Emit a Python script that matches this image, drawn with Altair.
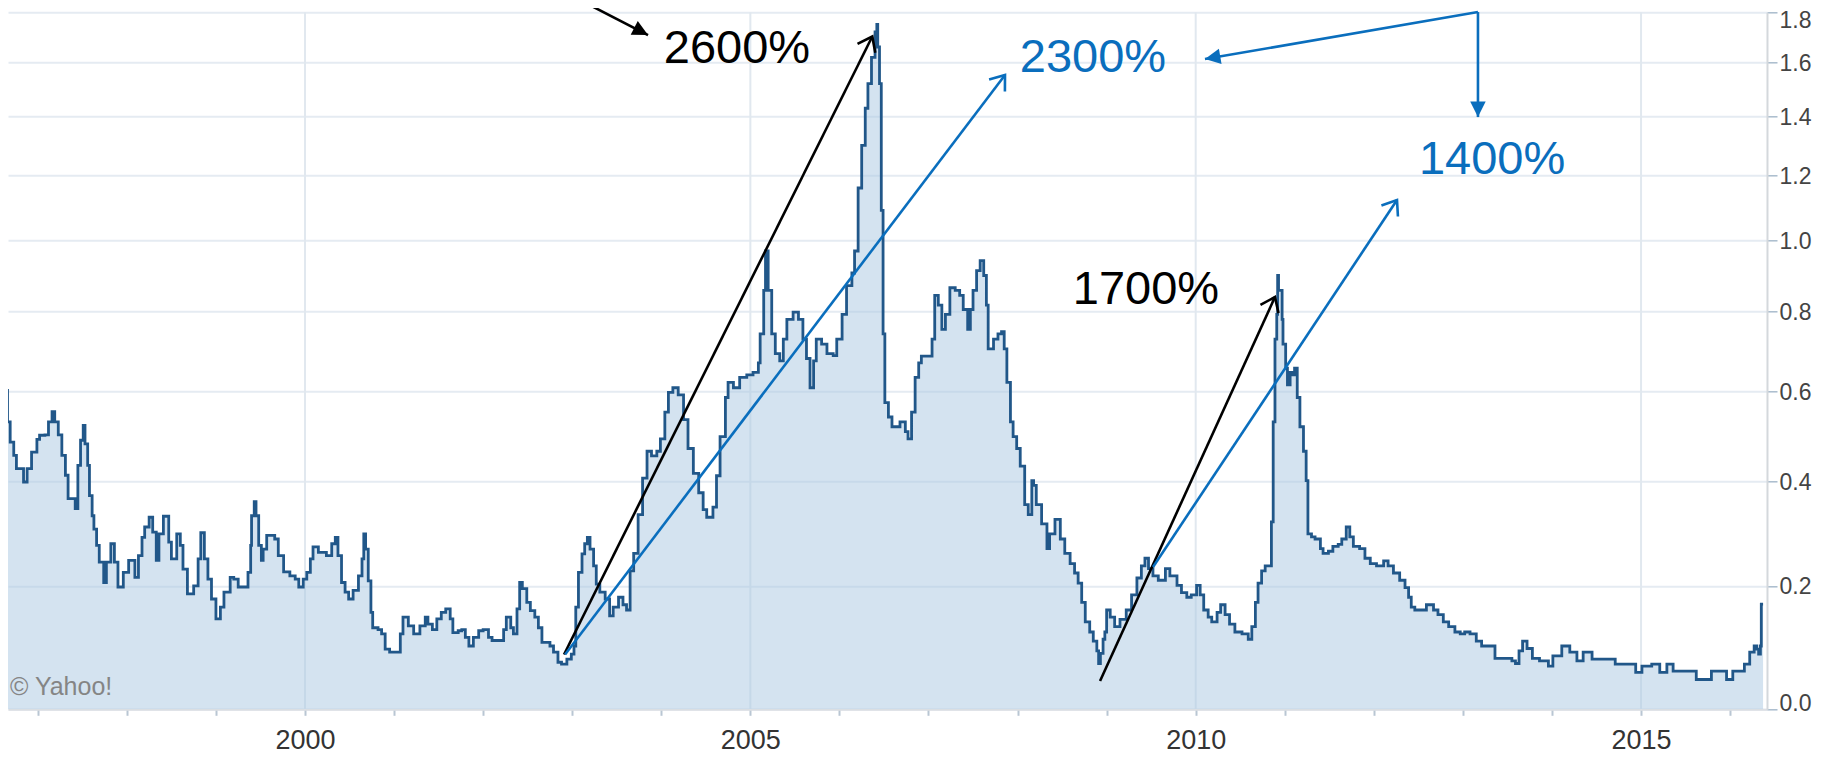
import altair as alt
import pandas as pd

# ---- series (decimal year, value) ----
years = [
    1996.60, 1996.61, 1996.64, 1996.66, 1996.69, 1996.73, 1996.76, 1996.84, 1996.88, 1996.93,
    1996.99, 1997.02, 1997.08, 1997.12, 1997.16, 1997.19, 1997.23, 1997.27, 1997.31, 1997.34,
    1997.42, 1997.45, 1997.48, 1997.51, 1997.53, 1997.56, 1997.58, 1997.61, 1997.63, 1997.66,
    1997.69, 1997.74, 1997.77, 1997.82, 1997.86, 1997.90, 1997.96, 1998.02, 1998.09, 1998.13,
    1998.17, 1998.20, 1998.25, 1998.29, 1998.33, 1998.36, 1998.41, 1998.47, 1998.50, 1998.56,
    1998.60, 1998.63, 1998.68, 1998.75, 1998.80, 1998.83, 1998.87, 1998.91, 1998.95, 1999.00,
    1999.05, 1999.09, 1999.16, 1999.20, 1999.25, 1999.35, 1999.36, 1999.39, 1999.40, 1999.43,
    1999.45, 1999.48, 1999.51, 1999.53, 1999.57, 1999.63, 1999.66, 1999.70, 1999.76, 1999.83,
    1999.89, 1999.93, 1999.98, 2000.02, 2000.06, 2000.09, 2000.15, 2000.24, 2000.30, 2000.34,
    2000.37, 2000.41, 2000.45, 2000.49, 2000.54, 2000.60, 2000.64, 2000.66, 2000.68, 2000.71,
    2000.74, 2000.76, 2000.82, 2000.86, 2000.90, 2000.95, 2001.03, 2001.07, 2001.10, 2001.16,
    2001.22, 2001.27, 2001.29, 2001.35, 2001.38, 2001.43, 2001.48, 2001.53, 2001.58, 2001.63,
    2001.66, 2001.72, 2001.76, 2001.80, 2001.84, 2001.89, 2001.95, 2002.00, 2002.06, 2002.10,
    2002.19, 2002.23, 2002.26, 2002.31, 2002.34, 2002.38, 2002.41, 2002.44, 2002.49, 2002.53,
    2002.58, 2002.62, 2002.66, 2002.75, 2002.79, 2002.84, 2002.88, 2002.94, 2002.99, 2003.02,
    2003.04, 2003.07, 2003.11, 2003.14, 2003.17, 2003.20, 2003.24, 2003.27, 2003.31, 2003.37,
    2003.42, 2003.46, 2003.52, 2003.57, 2003.61, 2003.65, 2003.69, 2003.74, 2003.79, 2003.84,
    2003.89, 2003.95, 2003.99, 2004.04, 2004.08, 2004.13, 2004.19, 2004.25, 2004.30, 2004.36,
    2004.42, 2004.47, 2004.51, 2004.58, 2004.62, 2004.66, 2004.72, 2004.75, 2004.81, 2004.88,
    2004.96, 2005.03, 2005.09, 2005.11, 2005.15, 2005.17, 2005.20, 2005.24, 2005.28, 2005.33,
    2005.37, 2005.41, 2005.48, 2005.54, 2005.59, 2005.63, 2005.67, 2005.71, 2005.74, 2005.80,
    2005.86, 2005.93, 2005.97, 2006.03, 2006.08, 2006.14, 2006.17, 2006.21, 2006.25, 2006.29,
    2006.32, 2006.36, 2006.40, 2006.42, 2006.43, 2006.45, 2006.47, 2006.49, 2006.51, 2006.55,
    2006.59, 2006.62, 2006.68, 2006.74, 2006.77, 2006.81, 2006.85, 2006.89, 2006.92, 2007.00,
    2007.04, 2007.07, 2007.11, 2007.15, 2007.19, 2007.24, 2007.30, 2007.35, 2007.39, 2007.44,
    2007.47, 2007.50, 2007.54, 2007.58, 2007.62, 2007.65, 2007.67, 2007.73, 2007.78, 2007.82,
    2007.85, 2007.88, 2007.92, 2007.95, 2007.99, 2008.03, 2008.08, 2008.12, 2008.16, 2008.18,
    2008.21, 2008.27, 2008.33, 2008.36, 2008.42, 2008.48, 2008.53, 2008.59, 2008.64, 2008.68,
    2008.72, 2008.76, 2008.81, 2008.85, 2008.89, 2008.91, 2008.93, 2008.96, 2008.98, 2009.00,
    2009.04, 2009.09, 2009.15, 2009.22, 2009.28, 2009.34, 2009.39, 2009.43, 2009.47, 2009.52,
    2009.58, 2009.66, 2009.71, 2009.79, 2009.84, 2009.90, 2009.95, 2010.01, 2010.05, 2010.09,
    2010.14, 2010.18, 2010.24, 2010.28, 2010.33, 2010.38, 2010.44, 2010.52, 2010.59, 2010.63,
    2010.67, 2010.70, 2010.74, 2010.78, 2010.83, 2010.85, 2010.87, 2010.89, 2010.91, 2010.92,
    2010.93, 2010.95, 2010.97, 2010.98, 2011.01, 2011.03, 2011.06, 2011.09, 2011.11, 2011.14,
    2011.17, 2011.21, 2011.24, 2011.26, 2011.30, 2011.34, 2011.40, 2011.43, 2011.49, 2011.54,
    2011.60, 2011.64, 2011.69, 2011.73, 2011.77, 2011.84, 2011.90, 2011.96, 2012.03, 2012.11,
    2012.16, 2012.22, 2012.29, 2012.35, 2012.39, 2012.42, 2012.46, 2012.52, 2012.59, 2012.67,
    2012.72, 2012.78, 2012.84, 2012.91, 2012.97, 2013.02, 2013.08, 2013.15, 2013.21, 2013.30,
    2013.36, 2013.45, 2013.55, 2013.59, 2013.63, 2013.67, 2013.72, 2013.78, 2013.86, 2013.96,
    2014.01, 2014.11, 2014.20, 2014.28, 2014.35, 2014.45, 2014.61, 2014.71, 2014.86, 2014.94,
    2015.01, 2015.12, 2015.21, 2015.29, 2015.36, 2015.53, 2015.62, 2015.71, 2015.79, 2015.86,
    2015.96, 2016.03, 2016.11, 2016.16, 2016.22, 2016.27, 2016.30, 2016.32, 2016.34, 2016.35,
    2016.37,
]
rate = [
    0.757, 0.679, 0.602, 0.529, 0.484, 0.455, 0.427, 0.399, 0.427, 0.462,
    0.490, 0.499, 0.500, 0.529, 0.552, 0.529, 0.500, 0.455, 0.413, 0.365,
    0.345, 0.434, 0.488, 0.521, 0.480, 0.434, 0.371, 0.331, 0.305, 0.274,
    0.243, 0.206, 0.243, 0.277, 0.243, 0.198, 0.224, 0.246, 0.215, 0.255,
    0.289, 0.309, 0.328, 0.299, 0.246, 0.296, 0.330, 0.280, 0.249, 0.296,
    0.274, 0.230, 0.186, 0.200, 0.249, 0.298, 0.249, 0.212, 0.177, 0.143,
    0.163, 0.189, 0.215, 0.212, 0.198, 0.198, 0.224, 0.274, 0.331, 0.359,
    0.331, 0.274, 0.246, 0.267, 0.293, 0.293, 0.286, 0.255, 0.225, 0.218,
    0.212, 0.198, 0.212, 0.224, 0.249, 0.271, 0.261, 0.255, 0.277, 0.289,
    0.255, 0.206, 0.189, 0.177, 0.192, 0.218, 0.249, 0.296, 0.267, 0.209,
    0.154, 0.128, 0.125, 0.118, 0.093, 0.088, 0.088, 0.118, 0.146, 0.131,
    0.118, 0.118, 0.131, 0.146, 0.134, 0.125, 0.143, 0.154, 0.160, 0.143,
    0.120, 0.123, 0.125, 0.112, 0.098, 0.112, 0.123, 0.125, 0.112, 0.107,
    0.107, 0.125, 0.146, 0.128, 0.118, 0.160, 0.206, 0.195, 0.171, 0.157,
    0.146, 0.128, 0.104, 0.098, 0.088, 0.072, 0.069, 0.077, 0.085, 0.098,
    0.163, 0.224, 0.258, 0.277, 0.289, 0.267, 0.236, 0.203, 0.189, 0.177,
    0.148, 0.163, 0.180, 0.167, 0.158, 0.227, 0.259, 0.333, 0.407, 0.464,
    0.454, 0.464, 0.491, 0.551, 0.597, 0.608, 0.591, 0.534, 0.470, 0.417,
    0.377, 0.343, 0.328, 0.348, 0.412, 0.496, 0.585, 0.621, 0.608, 0.633,
    0.639, 0.645, 0.668, 0.741, 0.857, 0.968, 0.857, 0.741, 0.691, 0.673,
    0.728, 0.779, 0.798, 0.779, 0.728, 0.679, 0.608, 0.673, 0.728, 0.715,
    0.691, 0.686, 0.728, 0.792, 0.870, 0.905, 0.968, 1.160, 1.300, 1.430,
    1.520, 1.620, 1.720, 1.750, 1.660, 1.520, 1.090, 0.741, 0.573, 0.540,
    0.518, 0.518, 0.529, 0.507, 0.491, 0.551, 0.633, 0.668, 0.685, 0.685,
    0.728, 0.843, 0.817, 0.753, 0.792, 0.864, 0.857, 0.843, 0.805, 0.753,
    0.805, 0.857, 0.912, 0.940, 0.898, 0.817, 0.703, 0.728, 0.741, 0.747,
    0.703, 0.621, 0.529, 0.496, 0.470, 0.432, 0.353, 0.333, 0.402, 0.392,
    0.353, 0.315, 0.268, 0.296, 0.324, 0.286, 0.259, 0.240, 0.223, 0.205,
    0.171, 0.138, 0.121, 0.106, 0.090, 0.070, 0.086, 0.109, 0.121, 0.158,
    0.146, 0.130, 0.142, 0.158, 0.184, 0.214, 0.236, 0.250, 0.231, 0.218,
    0.210, 0.231, 0.218, 0.201, 0.188, 0.180, 0.184, 0.201, 0.184, 0.158,
    0.146, 0.138, 0.154, 0.167, 0.150, 0.134, 0.121, 0.118, 0.109, 0.130,
    0.171, 0.205, 0.227, 0.236, 0.236, 0.319, 0.529, 0.728, 0.792, 0.898,
    0.857, 0.857, 0.779, 0.715, 0.655, 0.615, 0.645, 0.639, 0.655, 0.585,
    0.518, 0.464, 0.402, 0.296, 0.290, 0.286, 0.268, 0.259, 0.263, 0.272,
    0.276, 0.286, 0.309, 0.290, 0.272, 0.268, 0.250, 0.240, 0.236, 0.245,
    0.236, 0.223, 0.210, 0.197, 0.180, 0.163, 0.158, 0.158, 0.167, 0.158,
    0.150, 0.138, 0.130, 0.121, 0.118, 0.121, 0.118, 0.106, 0.098, 0.098,
    0.078, 0.078, 0.074, 0.070, 0.090, 0.106, 0.094, 0.078, 0.074, 0.066,
    0.082, 0.098, 0.088, 0.074, 0.088, 0.077, 0.077, 0.069, 0.069, 0.056,
    0.066, 0.069, 0.056, 0.069, 0.058, 0.058, 0.045, 0.045, 0.058, 0.058,
    0.045, 0.058, 0.058, 0.069, 0.088, 0.098, 0.093, 0.085, 0.098, 0.168,
    0.168,
]

# ---- axes ----
x_ticks = list(range(1997, 2017))
grid_years = [2000, 2005, 2010, 2015]
y_ticks = [0.0, 0.2, 0.4, 0.6, 0.8, 1.0, 1.2, 1.4, 1.6, 1.8]
x_domain = [1996.6655, 2016.414]
y_domain = [0.0, 1.8]

# ---- annotations (data coordinates) ----
arrow_x0 = [2003.087, 2002.908, 2002.92, 2013.169, 2013.169, 2008.926, 2009.521]
arrow_y0 = [1.851, 0.0843, 0.0843, 1.801, 1.801, 0.0427, 0.2339]
arrow_x1 = [2003.851, 2006.369, 2007.859, 2010.104, 2013.169, 2010.890, 2012.26]
arrow_y1 = [1.7075, 1.7015, 1.5522, 1.6132, 1.3985, 0.8387, 1.1219]
arrow_color = ["#000000", "#000000", "#0a6ebd", "#0a6ebd", "#0a6ebd", "#000000", "#0a6ebd"]
arrow_head = ["solid", "open", "open", "solid", "solid", "open", "open"]
arrow_angle = [27.2, 296.5, 307.2, 170.2, 90.0, 294.5, 303.6]

label_text = ["2600%", "2300%", "1700%", "1400%"]
label_x = [2004.85, 2008.847, 2009.442, 2013.327]
label_y = [1.652, 1.617, 0.8578, 1.251]
label_color = ["#000000", "#0a6ebd", "#000000", "#0a6ebd"]

credit_text = ["\u00a9 Yahoo!"]
credit_x = [1996.688]
credit_y = [0.0335]

series = pd.DataFrame({"year": years, "rate": rate})
arrows = pd.DataFrame({"x0": arrow_x0, "y0": arrow_y0, "x1": arrow_x1, "y1": arrow_y1,
                       "col": arrow_color, "head": arrow_head, "ang": arrow_angle})
labels = pd.DataFrame({"t": label_text, "x": label_x, "y": label_y, "col": label_color})
credit = pd.DataFrame({"t": credit_text, "x": credit_x, "y": credit_y})
grids = pd.DataFrame({"year": grid_years})

FONT = "Liberation Sans"

xscale = alt.Scale(domain=x_domain, nice=False, zero=False)
yscale = alt.Scale(type="symlog", constant=1, domain=y_domain, nice=False, zero=False)

x_axis = alt.Axis(
    values=x_ticks, format="d",
    labelExpr="datum.value % 5 == 0 ? datum.label : ''",
    grid=False, tickSize=6, tickWidth=2, tickColor="#b9c6d3",
    domainColor="#dcdfe3", domainWidth=2,
    labelFont=FONT, labelFontSize=27, labelColor="#333333", labelPadding=12,
    labelFlush=False, labelOverlap=False, title=None,
)
y_axis = alt.Axis(
    orient="right", values=y_ticks, format=".1f",
    grid=True, gridColor="#e5ebf2", gridWidth=2,
    tickSize=10, tickWidth=1.5, tickColor="#a9bccd",
    domainColor="#d4d8dc", domainWidth=2,
    labelFont=FONT, labelFontSize=23, labelColor="#444444", labelPadding=2,
    labelOffset={"condition": [
        {"test": "datum.value >= 1.79", "value": 8},
        {"test": "datum.value <= 0.01", "value": -6},
    ], "value": 1},
    labelFlush=False, title=None,
)

vgrid = alt.Chart(grids).mark_rule(color="#e1e8ef", strokeWidth=2).encode(
    x=alt.X("year:Q", scale=xscale, axis=x_axis)
)

area = alt.Chart(series).mark_area(
    interpolate="step-after", color="#a9c8e1", opacity=0.5, clip=True
).encode(
    x=alt.X("year:Q", scale=xscale, axis=x_axis),
    y=alt.Y("rate:Q", scale=yscale, axis=y_axis),
)

line = alt.Chart(series).mark_line(
    interpolate="step-after", color="#215789", strokeWidth=2.8, clip=True
).encode(
    x=alt.X("year:Q", scale=xscale),
    y=alt.Y("rate:Q", scale=yscale),
)

shafts = alt.Chart(arrows).mark_rule(strokeWidth=2.6).encode(
    x=alt.X("x0:Q", scale=xscale),
    x2="x1:Q",
    y=alt.Y("y0:Q", scale=yscale),
    y2="y1:Q",
    color=alt.Color("col:N", scale=None),
)

open_heads = alt.Chart(arrows).transform_filter("datum.head == 'open'").mark_point(
    shape="M-1,-0.75L0,0L-1,0.75", filled=False, strokeWidth=2.6, size=700,
    opacity=1, strokeJoin="miter",
).encode(
    x=alt.X("x1:Q", scale=xscale),
    y=alt.Y("y1:Q", scale=yscale),
    angle=alt.Angle("ang:Q", scale=None),
    color=alt.Color("col:N", scale=None),
)

solid_heads = alt.Chart(arrows).transform_filter("datum.head == 'solid'").mark_point(
    shape="M0,0L-1,-0.5L-1,0.5Z", filled=True, size=960, opacity=1,
).encode(
    x=alt.X("x1:Q", scale=xscale),
    y=alt.Y("y1:Q", scale=yscale),
    angle=alt.Angle("ang:Q", scale=None),
    color=alt.Color("col:N", scale=None),
)

texts = alt.Chart(labels).mark_text(
    font=FONT, fontSize=47, align="center", baseline="middle"
).encode(
    x=alt.X("x:Q", scale=xscale),
    y=alt.Y("y:Q", scale=yscale),
    text="t:N",
    color=alt.Color("col:N", scale=None),
)

credit_mark = alt.Chart(credit).mark_text(
    font=FONT, fontSize=25, align="left", baseline="middle", color="#858585"
).encode(
    x=alt.X("x:Q", scale=xscale),
    y=alt.Y("y:Q", scale=yscale),
    text="t:N",
)

chart = alt.layer(
    vgrid, area, line, shafts, open_heads, solid_heads, texts, credit_mark
).properties(
    width=1759, height=697,
    padding={"left": 0, "top": 4.3, "right": 56, "bottom": 53},
    autosize=alt.AutoSizeParams(type="none"),
    background="white",
).configure_view(stroke=None)

chart.save("out.html", embed_options={"renderer": "svg", "actions": False})
